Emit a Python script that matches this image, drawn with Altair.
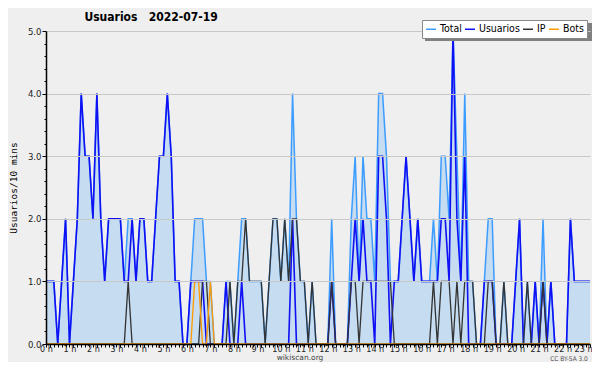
import altair as alt
import pandas as pd

# 10-minute steps from 0:00 (index 0) to 23:10 (index 139)
steps = list(range(140))

total = [1,1,1,0,1,2,0,1,2,4, 3,3,2,4,2,1,2,2,2,2, 1,2,2,1,2,2,1,1,2,3,
         3,4,3,1,1,0,0,1,2,2, 2,1,1,0,0,0,1,1,0,1, 2,2,1,1,1,1,0,1,2,2,
         1,2,1,4,2,1,1,0,1,0, 0,0,0,2,0,0,0,0,2,3, 1,3,2,2,1,4,4,3,1,1,
         1,2,3,2,1,2,1,1,1,2, 1,3,3,2,5,3,1,4,1,1, 0,0,1,2,2,0,0,1,0,0,
         1,2,0,1,0,1,0,2,0,1, 0,0,0,0,2,1,1,1,1,1]
usuarios = [1,1,1,0,1,2,0,1,2,4, 3,3,2,4,2,1,2,2,2,2, 1,1,2,1,2,2,1,1,2,3,
            3,4,3,1,1,0,0,1,1,1, 1,0,0,0,0,0,1,0,0,0, 1,0,0,0,0,0,0,0,0,0,
            0,0,0,2,0,0,0,0,0,0, 0,0,0,1,0,0,0,0,1,2, 1,2,1,1,0,3,3,2,0,1,
            1,2,3,2,1,2,1,1,1,1, 1,2,2,1,5,2,1,3,0,0, 0,0,1,1,1,0,0,0,0,0,
            1,2,0,0,0,1,0,1,0,1, 0,0,0,0,2,1,1,1,1,1]
ip = [0,0,0,0,0,0,0,0,0,0, 0,0,0,0,0,0,0,0,0,0, 0,1,0,0,0,0,0,0,0,0,
      0,0,0,0,0,0,0,0,0,0, 1,1,0,0,0,0,0,1,0,1, 1,2,1,1,1,1,0,1,2,2,
      1,2,1,2,2,1,1,0,1,0, 0,0,0,1,0,0,0,0,1,1, 0,1,1,1,1,1,1,1,1,0,
      0,0,0,0,0,0,0,0,0,1, 0,1,1,1,0,1,0,1,1,1, 0,0,0,1,1,0,0,1,0,0,
      0,0,0,1,0,0,0,1,0,0, 0,0,0,0,0,0,0,0,0,0]
bots = [0,0,0,0,0,0,0,0,0,0, 0,0,0,0,0,0,0,0,0,0, 0,0,0,0,0,0,0,0,0,0,
        0,0,0,0,0,0,0,0,1,1, 0,0,1,0,0,0,0,0,0,0, 0,0,0,0,0,0,0,0,0,0,
        0,0,0,0,0,0,0,0,0,0, 0,0,0,0,0,0,0,0,0,0, 0,0,0,0,0,0,0,0,0,0,
        0,0,0,0,0,0,0,0,0,0, 0,0,0,0,0,0,0,0,0,0, 0,0,0,0,0,0,0,0,0,0,
        0,0,0,0,0,0,0,0,0,0, 0,0,0,0,0,0,0,0,0,0]

series_names = ["Total", "Usuarios", "IP", "Bots"]
series_colors = ["#3d9cff", "#1010f5", "#333333", "#ff9a00"]
series_widths = [1.5, 1.6, 1.3, 1.3]
title_text = "Usuarios\u00a0\u00a0 2022-07-19"
y_title = "Usuarios/10 mins"
footer_site = ["wikiscan.org"]
footer_license = ["CC BY-SA 3.0"]

rows = []
for name, vals in zip(series_names, [total, usuarios, ip, bots]):
    for s, v in zip(steps, vals):
        rows.append({"i": s, "serie": name, "value": v})
df = pd.DataFrame(rows)

AX_FONT = "DejaVu Sans Condensed"

x_enc = alt.X(
    "i:Q",
    scale=alt.Scale(domain=[0, 139], nice=False, zero=False),
    axis=alt.Axis(
        values=steps,
        labelExpr="datum.value % 6 == 0 ? (datum.value / 6) + ' h' : ''",
        title=None, grid=False, tickSize=3, tickColor="black",
        domainColor="black", domainWidth=1.5, zindex=1, labelColor="#222",
        labelFont=AX_FONT, labelFontSize=9, labelOverlap=False,
        labelFlush=False, labelPadding=-2.5,
        labelOffset={"condition": {"test": "datum.value == 138", "value": -3}, "value": 0},
    ),
)
y_enc = alt.Y(
    "value:Q",
    scale=alt.Scale(domain=[0, 5], nice=False, zero=True),
    axis=alt.Axis(
        values=[k / 5 for k in range(26)],
        labelExpr="datum.value % 1 == 0 ? format(datum.value, '.1f') : ''",
        title=y_title, titleFont="DejaVu Sans Mono", titleFontSize=9.5,
        titleFontWeight="normal", titleColor="black", titlePadding=9,
        grid=True, gridColor="#c8c8c8",
        gridOpacity={"condition": {"test": "datum.value % 1 == 0", "value": 1}, "value": 0},
        tickSize={"condition": {"test": "datum.value % 1 == 0", "value": 4}, "value": 2},
        tickColor="black", domainColor="black", domainWidth=1.5, zindex=1,
        labelColor="#222", labelFont=AX_FONT, labelFontSize=9.5,
        labelPadding=1, labelOverlap=False,
    ),
)
color_enc = alt.Color(
    "serie:N",
    scale=alt.Scale(domain=series_names, range=series_colors),
    legend=alt.Legend(
        title=None, orient="none", legendX=376, legendY=-11, direction="horizontal",
        columns=4, fillColor="white", strokeColor="#888", padding=3,
        symbolType="stroke", symbolSize=100, symbolStrokeWidth=1.5,
        labelFont=AX_FONT, labelFontSize=10.5, labelColor="black",
        columnPadding=0, labelOffset=3, zindex=2,
    ),
)

base = alt.Chart(df)

# drop shadow behind the legend box
shadow = alt.Chart(pd.DataFrame({"k": [0]})).mark_rect(color="#808080").encode(
    x=alt.value(379), x2=alt.value(547), y=alt.value(-8), y2=alt.value(10)
)

area = base.transform_filter(alt.datum.serie == "Total").mark_area(
    color="#c6dcf0", opacity=1
).encode(x=x_enc, y=y_enc)

layers = [area]
for name, w in zip(series_names, series_widths):
    layers.append(
        base.transform_filter(alt.datum.serie == name)
        .mark_line(strokeWidth=w)
        .encode(x=x_enc, y=y_enc, color=color_enc)
    )
layers.append(shadow)

site = alt.Chart(pd.DataFrame({"t": footer_site})).mark_text(
    font="DejaVu Sans", fontSize=7.5, color="#444", baseline="bottom"
).encode(text="t:N", x=alt.value(254), y=alt.value(330.5))
lic = alt.Chart(pd.DataFrame({"t": footer_license})).mark_text(
    font="DejaVu Sans Condensed", fontSize=6.5, color="#555", baseline="bottom"
).encode(text="t:N", x=alt.value(523), y=alt.value(330.5))
layers += [site, lic]

chart = alt.layer(*layers).properties(
    width=544, height=313,
    autosize=alt.AutoSizeParams(type="none"),
    padding={"left": 38, "top": 23, "right": 2, "bottom": 18},
    background="#efefef",
    title=alt.TitleParams(
        title_text, anchor="start", font=AX_FONT, fontSize=12,
        fontWeight="bold", color="black", dx=76, dy=10, offset=6,
    ),
).configure_view(strokeWidth=0, fill="#efefef")

chart.save("out.html", embed_options={"renderer": "svg", "actions": False})
